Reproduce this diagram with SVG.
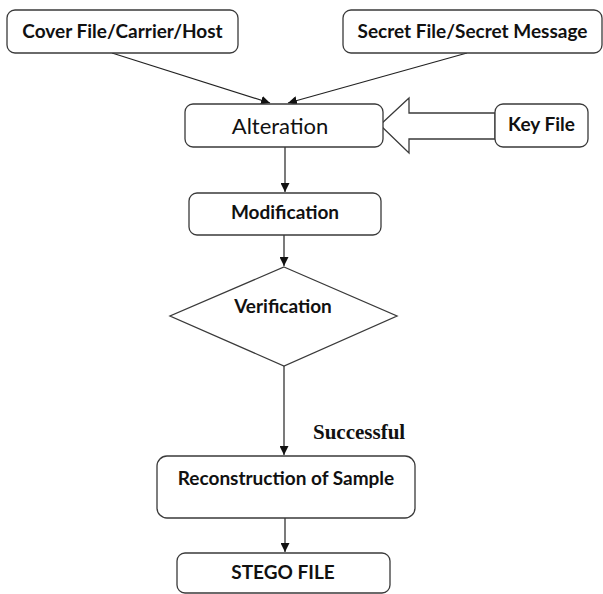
<svg xmlns="http://www.w3.org/2000/svg" width="603" height="594" viewBox="0 0 603 594">
<defs>
<style>
.box{fill:#fff;stroke:#3a3a3a;stroke-width:1.3}
.t{font-family:Lato,"Open Sans",sans-serif;font-weight:bold;font-size:19px;fill:#111;text-anchor:middle}
.r{font-weight:normal;font-size:22px}
.c{fill:none;stroke:#222;stroke-width:1.2}
</style>
<marker id="ah" viewBox="0 0 10 10" refX="10" refY="5" markerWidth="9" markerHeight="9" markerUnits="userSpaceOnUse" orient="auto">
<path d="M0,0 L10,5 L0,10 z" fill="#111"/>
</marker>
</defs>
<rect width="603" height="594" fill="#fff"/>
<g id="connectors">
<line class="c" x1="112" y1="53" x2="270" y2="103" marker-end="url(#ah)"/>
<line class="c" x1="467" y1="53" x2="288" y2="103" marker-end="url(#ah)"/>
<line class="c" x1="285" y1="147" x2="285" y2="192" marker-end="url(#ah)"/>
<line class="c" x1="284" y1="235" x2="284" y2="266" marker-end="url(#ah)"/>
<line class="c" x1="284" y1="366" x2="284" y2="455" marker-end="url(#ah)"/>
<line class="c" x1="285" y1="518" x2="285" y2="552" marker-end="url(#ah)"/>
<polygon id="key-arrow" class="box" points="380,125 409,98 409,113 495,113 495,139 409,139 409,153"/>
<text x="313" y="439" style="font-family:'Liberation Serif','Times New Roman',serif;font-weight:bold;font-size:21px;fill:#111">Successful</text>
</g>
<g id="cover"><rect class="box" x="7" y="10" width="231" height="43" rx="8"/><text class="t" x="122.5" y="38">Cover File/Carrier/Host</text></g>
<g id="secret"><rect class="box" x="343" y="10" width="259" height="43" rx="8"/><text class="t" x="472.5" y="38">Secret File/Secret Message</text></g>
<g id="alteration"><rect class="box" x="185" y="104" width="198" height="43" rx="8"/><text class="t r" x="280" y="134">Alteration</text></g>
<g id="keyfile"><rect class="box" x="495" y="104" width="93" height="43" rx="8"/><text class="t" x="541.5" y="131">Key File</text></g>
<g id="modification"><rect class="box" x="189" y="193" width="192" height="42" rx="8"/><text class="t" x="285" y="219">Modification</text></g>
<g id="verification"><polygon class="box" points="284,267 397,316 284,366 170,316"/><text class="t" x="283" y="313">Verification</text></g>
<g id="reconstruction"><rect class="box" x="157" y="456" width="258" height="62" rx="10"/><text class="t" x="286" y="485">Reconstruction of Sample</text></g>
<g id="stego"><rect class="box" x="177" y="553" width="213" height="40" rx="8"/><text class="t" x="283" y="579">STEGO FILE</text></g>
</svg>
